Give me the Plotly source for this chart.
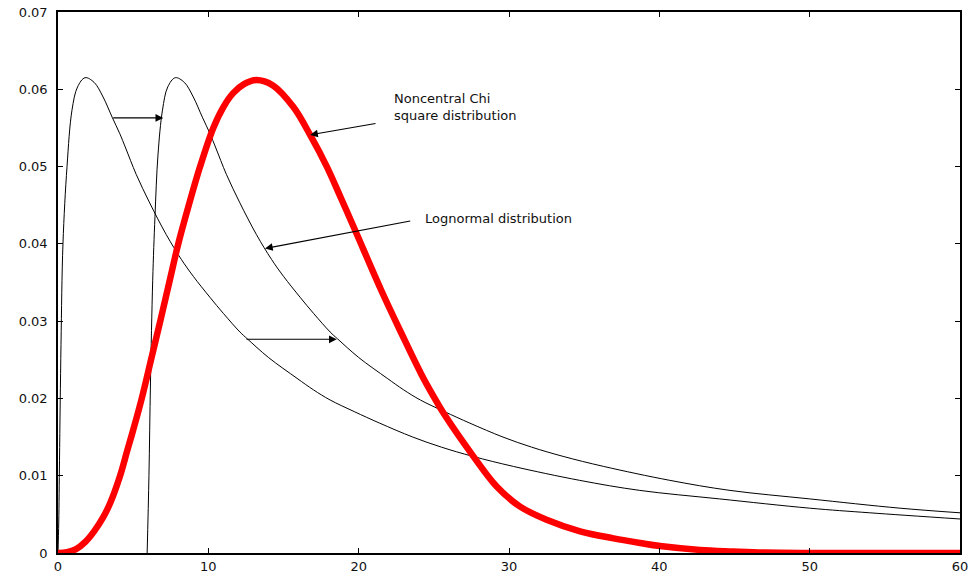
import plotly.graph_objects as go

# Lognormal distribution
ln_x = [0, 0.05, 0.1, 0.2, 0.33, 0.6, 0.93, 1.3, 1.8, 2.4, 3.0, 3.6, 4.1, 4.5, 5.2,
        6.1, 7.2, 8.2, 9.0, 10.1, 11.0, 12.1, 12.6, 14.0, 15.9, 17.0, 18.1, 19.7,
        21.4, 23.6, 25.5, 27.6, 30.3, 34.7, 38.7, 44, 50, 54, 60]
ln_y = [0, 0.004, 0.012, 0.027, 0.040, 0.050, 0.0573, 0.0603, 0.0615, 0.0609, 0.0590,
        0.0564, 0.0543, 0.0524, 0.0490, 0.0453, 0.0412, 0.0380, 0.0358, 0.0331,
        0.0310, 0.0286, 0.0277, 0.0253, 0.0226, 0.0211, 0.0198, 0.0183, 0.0168,
        0.0150, 0.0137, 0.0125, 0.0112, 0.0094, 0.0081, 0.0070, 0.0058, 0.0052,
        0.0044]

# Shifted lognormal distribution
sh_x = [5.93, 6.05, 6.15, 6.3, 6.45, 6.65, 6.95, 7.3, 7.8, 8.4, 9.0, 9.6, 10.1, 10.5,
        11.2, 12.1, 13.2, 14.2, 15.0, 16.1, 17.0, 18.1, 18.6, 20.0, 21.9, 23.0, 24.1,
        25.7, 27.4, 29.6, 31.5, 33.6, 36.3, 40.7, 44.7, 50, 56, 60]
sh_y = [0, 0.010, 0.022, 0.0353, 0.0435, 0.0515, 0.0573, 0.0603, 0.0615, 0.0609,
        0.0590, 0.0564, 0.0543, 0.0524, 0.0490, 0.0453, 0.0412, 0.0380, 0.0358,
        0.0331, 0.0310, 0.0286, 0.0277, 0.0253, 0.0226, 0.0211, 0.0198, 0.0183,
        0.0168, 0.0150, 0.0137, 0.0125, 0.0112, 0.0094, 0.0081, 0.0070, 0.0058,
        0.0052]

# Noncentral chi-square distribution
nc_x = [0, 0.6, 1.2, 1.8, 2.4, 3.0, 3.5, 4.13, 4.6, 5.1, 5.57, 6.2, 6.8, 7.4, 8.0,
        8.7, 9.45, 10.33, 11.0, 11.65, 12.4, 13.2, 14.3, 15.66, 16.77, 17.88, 18.85,
        19.8, 21.5, 22.85, 24.15, 25.0, 25.64, 27.63, 29.18, 30.74, 32.5, 34.73,
        36.95, 38.72, 40.05, 42.7, 44.9, 47, 50, 60]
nc_y = [0, 0.0001, 0.0005, 0.0014, 0.0028, 0.0046, 0.0066, 0.0100, 0.0132, 0.0166,
        0.0200, 0.0251, 0.0300, 0.0350, 0.0400, 0.0450, 0.0500, 0.0550, 0.0577,
        0.0595, 0.0607, 0.0612, 0.0605, 0.0577, 0.0541, 0.0500, 0.0458, 0.0416,
        0.0340, 0.0284, 0.0232, 0.0202, 0.0181, 0.0125, 0.0086, 0.0060, 0.0043,
        0.0028, 0.0019, 0.0013, 0.0009, 0.0004, 0.0002, 0.00005, 0.0, 0.0]

x_ticks = [0, 10, 20, 30, 40, 50, 60]
x_tick_labels = ["0", "10", "20", "30", "40", "50", "60"]
y_ticks = [0, 0.01, 0.02, 0.03, 0.04, 0.05, 0.06, 0.07]
y_tick_labels = ["0", "0.01", "0.02", "0.03", "0.04", "0.05", "0.06", "0.07"]

labels = ["Noncentral Chi<br>square distribution", "Lognormal distribution"]

FONT = "DejaVu Sans, Liberation Sans, Arial, sans-serif"
FS = 13

fig = go.Figure()
fig.add_trace(go.Scatter(x=ln_x, y=ln_y, mode="lines",
                         line=dict(color="black", width=1, shape="spline", smoothing=1.0),
                         showlegend=False, hoverinfo="skip"))
fig.add_trace(go.Scatter(x=sh_x, y=sh_y, mode="lines",
                         line=dict(color="black", width=1, shape="spline", smoothing=1.0),
                         showlegend=False, hoverinfo="skip"))
fig.add_trace(go.Scatter(x=nc_x, y=nc_y, mode="lines",
                         line=dict(color="#ff0000", width=6.5, shape="spline", smoothing=1.0),
                         showlegend=False, hoverinfo="skip", cliponaxis=False))

# text labels
fig.add_annotation(x=22.22, y=0.0577, xref="x", yref="y", text=labels[0],
                   showarrow=False, xanchor="left", yanchor="middle", align="left",
                   font=dict(family=FONT, size=FS, color="#111"))
fig.add_annotation(x=24.28, y=0.0433, xref="x", yref="y", text=labels[1],
                   showarrow=False, xanchor="left", yanchor="middle", align="left",
                   font=dict(family=FONT, size=FS, color="#111"))

# arrows (tip, tail)
arrows = [
    ((16.77, 0.0541), (21.22, 0.0556)),
    ((13.77, 0.0394), (23.53, 0.0430)),
    ((7.0, 0.0563), (3.57, 0.0563)),
    ((18.54, 0.02765), (12.44, 0.02765)),
]
for (tx, ty), (ax_, ay_) in arrows:
    fig.add_annotation(x=tx, y=ty, ax=ax_, ay=ay_, xref="x", yref="y",
                       axref="x", ayref="y", text="", showarrow=True,
                       arrowhead=2, arrowsize=1.4, arrowwidth=1.1,
                       arrowcolor="black", standoff=0)

axis_common = dict(showline=True, linecolor="black", linewidth=1.5, mirror="ticks",
                   ticks="inside", ticklen=5, tickwidth=1, tickcolor="black",
                   showgrid=False, zeroline=False, automargin=False,
                   tickfont=dict(family=FONT, size=FS, color="#111"))

fig.update_xaxes(range=[0, 60], tickmode="array", tickvals=x_ticks,
                 ticktext=x_tick_labels, ticklabelstandoff=1, **axis_common)
fig.update_yaxes(range=[0, 0.07], tickmode="array", tickvals=y_ticks,
                 ticktext=y_tick_labels, ticklabelstandoff=6, **axis_common)

fig.update_layout(width=975, height=580, margin=dict(l=58, r=15, t=12, b=27),
                  paper_bgcolor="white", plot_bgcolor="white",
                  font=dict(family=FONT, size=FS, color="#111"))

fig.write_html("out.html", config={"displayModeBar": False},
               post_script="document.body.style.margin='0px';document.body.style.overflow='hidden';")
